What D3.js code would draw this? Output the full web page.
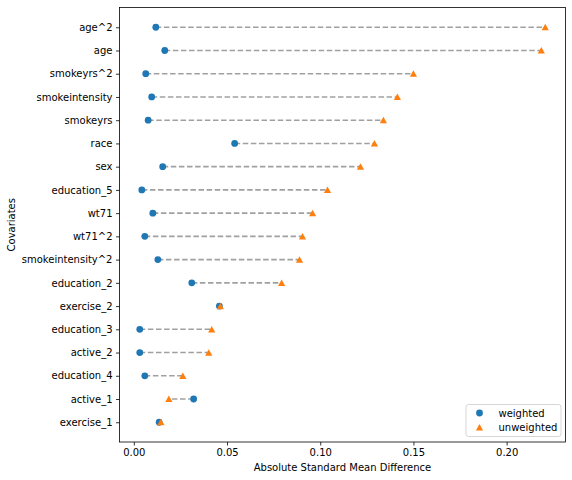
<!DOCTYPE html>
<html lang="en">
<head>
    <meta charset="UTF-8">
    <title>Covariate balance</title>
    <script src="https://cdn.jsdelivr.net/npm/d3@7"></script>
</head>
<style>
    body { margin: 0; background: #fff; }
    svg { font-family: "DejaVu Sans", sans-serif; }
</style>
<body>
    <div id="graphDiv"></div>

    <script>
        // Data (bottom to top, as in the reference)
        var covariates = ["exercise_1", "active_1", "education_4", "active_2", "education_3",
            "exercise_2", "education_2", "smokeintensity^2", "wt71^2", "wt71", "education_5",
            "sex", "race", "smokeyrs", "smokeintensity", "smokeyrs^2", "age", "age^2"]
        var weighted = [0.0136, 0.0321, 0.0059, 0.0032, 0.0032,
            0.0459, 0.0311, 0.0129, 0.0059, 0.0102, 0.0043,
            0.0155, 0.0541, 0.0077, 0.0096, 0.0064, 0.0166, 0.0118]
        var unweighted = [0.0145, 0.0188, 0.0263, 0.0402, 0.0418,
            0.0464, 0.0793, 0.0889, 0.0905, 0.0959, 0.1039,
            0.1216, 0.1291, 0.1339, 0.1414, 0.1500, 0.2186, 0.2207]
        var xTicks = [0, 0.05, 0.10, 0.15, 0.20]

        var width = 572
        var height = 480
        var axLeft = 119.5, axRight = 565.5, axTop = 7.5, axBottom = 442

        var svg = d3.select('#graphDiv')
                    .append('svg')
                    .attr('width', width)
                    .attr('height', height)

        // scales with matplotlib-like 5% margins
        var allVals = weighted.concat(unweighted)
        var xmin = d3.min(allVals), xmax = d3.max(allVals)
        var pad = (xmax - xmin) * 0.05
        var xScale = d3.scaleLinear()
                        .domain([xmin - pad, xmax + pad])
                        .range([axLeft, axRight])

        var n = covariates.length
        var yScale = d3.scaleLinear()
                        .domain([-0.85, n - 1 + 0.85])
                        .range([axBottom, axTop])

        var rows = covariates.map((c, i) => ({ name: c, w: weighted[i], u: unweighted[i], i: i }))

        // matplotlib-style "^" marker
        var triPath = 'M0,-3.4L3.6,3.1L-3.6,3.1Z'

        // dashed connectors
        svg.append('g')
            .selectAll('line')
            .data(rows)
            .join('line')
            .attr('x1', d => xScale(d.w))
            .attr('x2', d => xScale(d.u))
            .attr('y1', d => yScale(d.i))
            .attr('y2', d => yScale(d.i))
            .attr('stroke', '#808080')
            .attr('stroke-opacity', 0.75)
            .attr('stroke-width', 1.6)
            .attr('stroke-dasharray', '5.5,2.6')

        // weighted dots
        svg.append('g')
            .selectAll('circle')
            .data(rows)
            .join('circle')
            .attr('cx', d => xScale(d.w))
            .attr('cy', d => yScale(d.i))
            .attr('r', 3.4)
            .attr('fill', '#1f77b4')

        // unweighted triangles
        svg.append('g')
            .selectAll('path')
            .data(rows)
            .join('path')
            .attr('d', triPath)
            .attr('transform', d => `translate(${xScale(d.u)},${yScale(d.i)})`)
            .attr('fill', '#ff7f0e')

        // x axis
        var xAxis = d3.axisBottom(xScale)
                        .tickValues(xTicks)
                        .tickFormat(d3.format('.2f'))
                        .tickSize(3.5)
                        .tickPadding(3.5)
        var gx = svg.append('g')
                    .attr('transform', `translate(0,${axBottom})`)
                    .call(xAxis)
        gx.select('.domain').remove()

        // y axis
        var yAxis = d3.axisLeft(yScale)
                        .tickValues(d3.range(n))
                        .tickFormat(i => covariates[i])
                        .tickSize(3.5)
                        .tickPadding(3.5)
        var gy = svg.append('g')
                    .attr('transform', `translate(${axLeft},0)`)
                    .call(yAxis)
        gy.select('.domain').remove()

        svg.selectAll('.tick line').attr('stroke', '#000').attr('stroke-width', 0.8)
        svg.selectAll('.tick text')
            .attr('font-family', '"DejaVu Sans", sans-serif')
            .attr('font-size', 10)
            .attr('fill', '#000')

        // frame
        svg.append('rect')
            .attr('x', axLeft)
            .attr('y', axTop)
            .attr('width', axRight - axLeft)
            .attr('height', axBottom - axTop)
            .attr('fill', 'none')
            .attr('stroke', '#000')
            .attr('stroke-width', 0.8)

        // axis labels
        svg.append('text')
            .attr('x', (axLeft + axRight) / 2)
            .attr('y', 471)
            .attr('text-anchor', 'middle')
            .attr('font-size', 10)
            .text('Absolute Standard Mean Difference')

        svg.append('text')
            .attr('transform', `translate(15,${(axTop + axBottom) / 2}) rotate(-90)`)
            .attr('text-anchor', 'middle')
            .attr('font-size', 10)
            .text('Covariates')

        // legend
        var legend = svg.append('g').attr('transform', 'translate(466,404.5)')
        legend.append('rect')
            .attr('width', 95)
            .attr('height', 32)
            .attr('rx', 2.5)
            .attr('fill', '#fff')
            .attr('fill-opacity', 0.8)
            .attr('stroke', '#cccccc')
            .attr('stroke-width', 0.8)
        legend.append('circle')
            .attr('cx', 13.5)
            .attr('cy', 8.5)
            .attr('r', 3.4)
            .attr('fill', '#1f77b4')
        legend.append('path')
            .attr('d', triPath)
            .attr('transform', 'translate(13.5,23)')
            .attr('fill', '#ff7f0e')
        legend.append('text')
            .attr('x', 32.5)
            .attr('y', 12)
            .attr('font-size', 10)
            .text('weighted')
        legend.append('text')
            .attr('x', 32.5)
            .attr('y', 26.5)
            .attr('font-size', 10)
            .text('unweighted')
    </script>
</body>
</html>
